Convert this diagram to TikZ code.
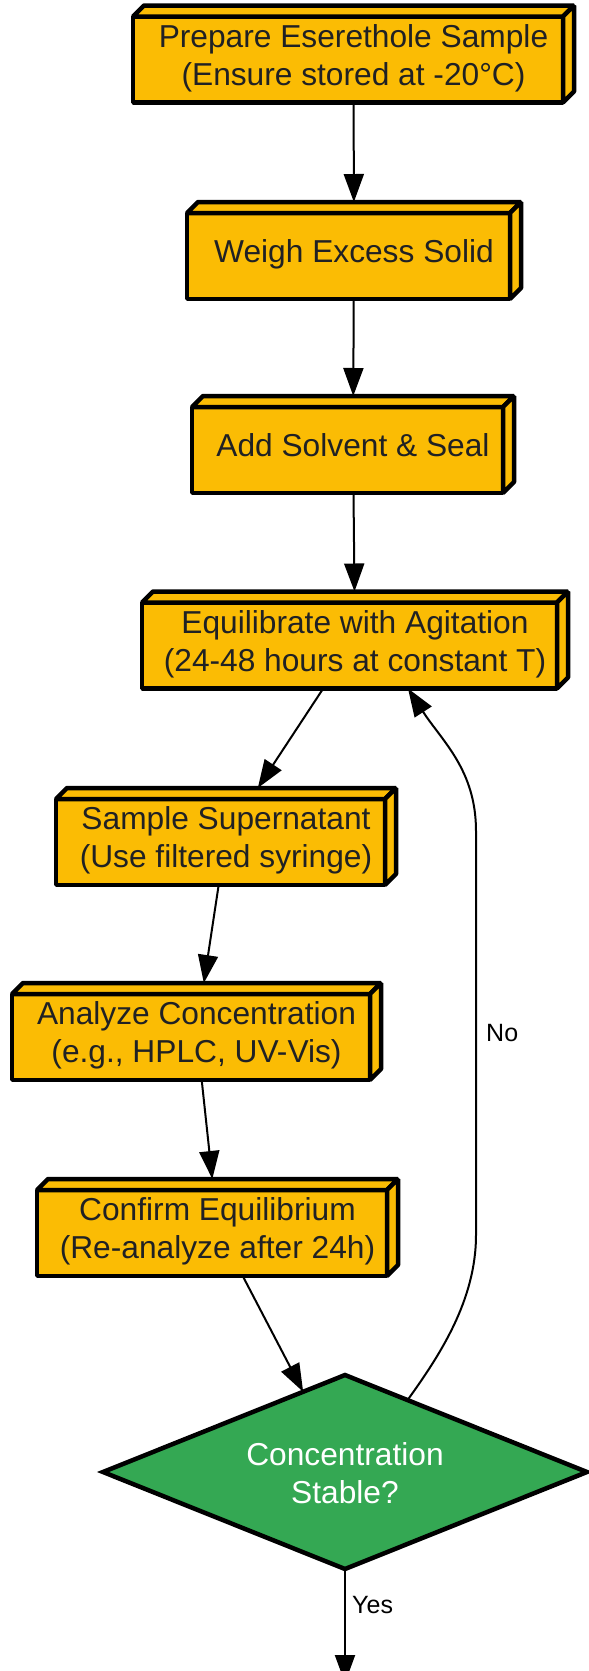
\documentclass[tikz,border=0pt]{standalone}
\usepackage{fontspec}
\setmainfont{Liberation Sans}
\usetikzlibrary{shapes.geometric,arrows.meta,backgrounds}
\definecolor{boxfill}{HTML}{FBBC04}
\definecolor{decfill}{HTML}{34A853}
\definecolor{txtcol}{HTML}{202124}
\newcommand\ls{\rule[-6.6pt]{0pt}{37.6pt}}
\newcommand\drawcube[1]{%
  \filldraw[face] (#1.south west) rectangle ([shift={(-11pt,-11pt)}]#1.north east);
  \filldraw[face] ([yshift=-11pt]#1.north west) -- ([xshift=11pt]#1.north west) -- (#1.north east) -- ([shift={(-11pt,-11pt)}]#1.north east) -- cycle;
  \filldraw[face] ([shift={(-11pt,-11pt)}]#1.north east) -- (#1.north east) -- ([yshift=11pt]#1.south east) -- ([xshift=-11pt]#1.south east) -- cycle;
}
\begin{document}
\begin{tikzpicture}[x=1pt,y=1pt,
  box/.style={rectangle, inner sep=0pt, outer sep=0pt, align=center, text=txtcol, font=\fontsize{31.7}{38}\selectfont, minimum height=97pt},
  face/.style={fill=boxfill, draw=black, line width=4.5pt, line join=bevel},
  flow/.style={draw=black, line width=2pt, -{Triangle[length=28pt,width=20pt]}},
  lbl/.style={font=\fontsize{25}{30}\selectfont, text=black, inner sep=0pt, anchor=west}]
\useasboundingbox (0,0) rectangle (589,-1671);
\node[box, minimum width=441pt] (n1) at (353.5,-54) {\ls Prepare Eserethole Sample\\\ls(Ensure stored at -20°C)};
\node[box, minimum width=334pt] (n2) at (354,-250.5) {\ls Weigh Excess Solid};
\node[box, minimum width=322pt] (n3) at (353,-444.5) {\ls Add Solvent \& Seal};
\node[box, minimum width=426pt] (n4) at (355,-640) {\ls Equilibrate with Agitation\\\ls(24-48 hours at constant T)};
\node[box, minimum width=340pt] (n5) at (226,-836.5) {\ls Sample Supernatant\\\ls(Use filtered syringe)};
\node[box, minimum width=369pt] (n6) at (196.5,-1031.5) {\ls Analyze Concentration\\\ls(e.g., HPLC, UV-Vis)};
\node[box, minimum width=361pt] (n7) at (217.5,-1227.5) {\ls Confirm Equilibrium\\\ls(Re-analyze after 24h)};
\node[shape=diamond, aspect=2.5, minimum width=484pt, minimum height=194pt, inner sep=0pt, outer sep=0pt,
  fill=decfill, draw=black, line width=4.5pt, text=white, align=center,
  font=\fontsize{31.7}{38}\selectfont] (dec) at (345,-1472) {\ls Concentration\\\ls Stable?};
\begin{scope}[on background layer]
  \drawcube{n1}\drawcube{n2}\drawcube{n3}\drawcube{n4}\drawcube{n5}\drawcube{n6}\drawcube{n7}
\end{scope}
\draw[flow] (n1) -- (n2);
\draw[flow] (n2) -- (n3);
\draw[flow] (n3) -- (n4);
\draw[flow] (n4) -- (n5);
\draw[flow] (n5) -- (n6);
\draw[flow] (n6) -- (n7);
\draw[flow] (n7) -- (dec);
\draw[flow] (dec.49.6) .. controls (440,-1355) and (476,-1300) .. (476,-1235) -- (476,-831) .. controls (476,-770) and (442,-741) .. ([xshift=53pt]n4.south);
\node[lbl] (nolbl) at (486,-1033) {No};
\coordinate (out) at (345,-1683);
\draw[flow] (dec) -- (out);
\node[lbl] (yeslbl) at (352,-1605) {Yes};
\end{tikzpicture}
\end{document}
